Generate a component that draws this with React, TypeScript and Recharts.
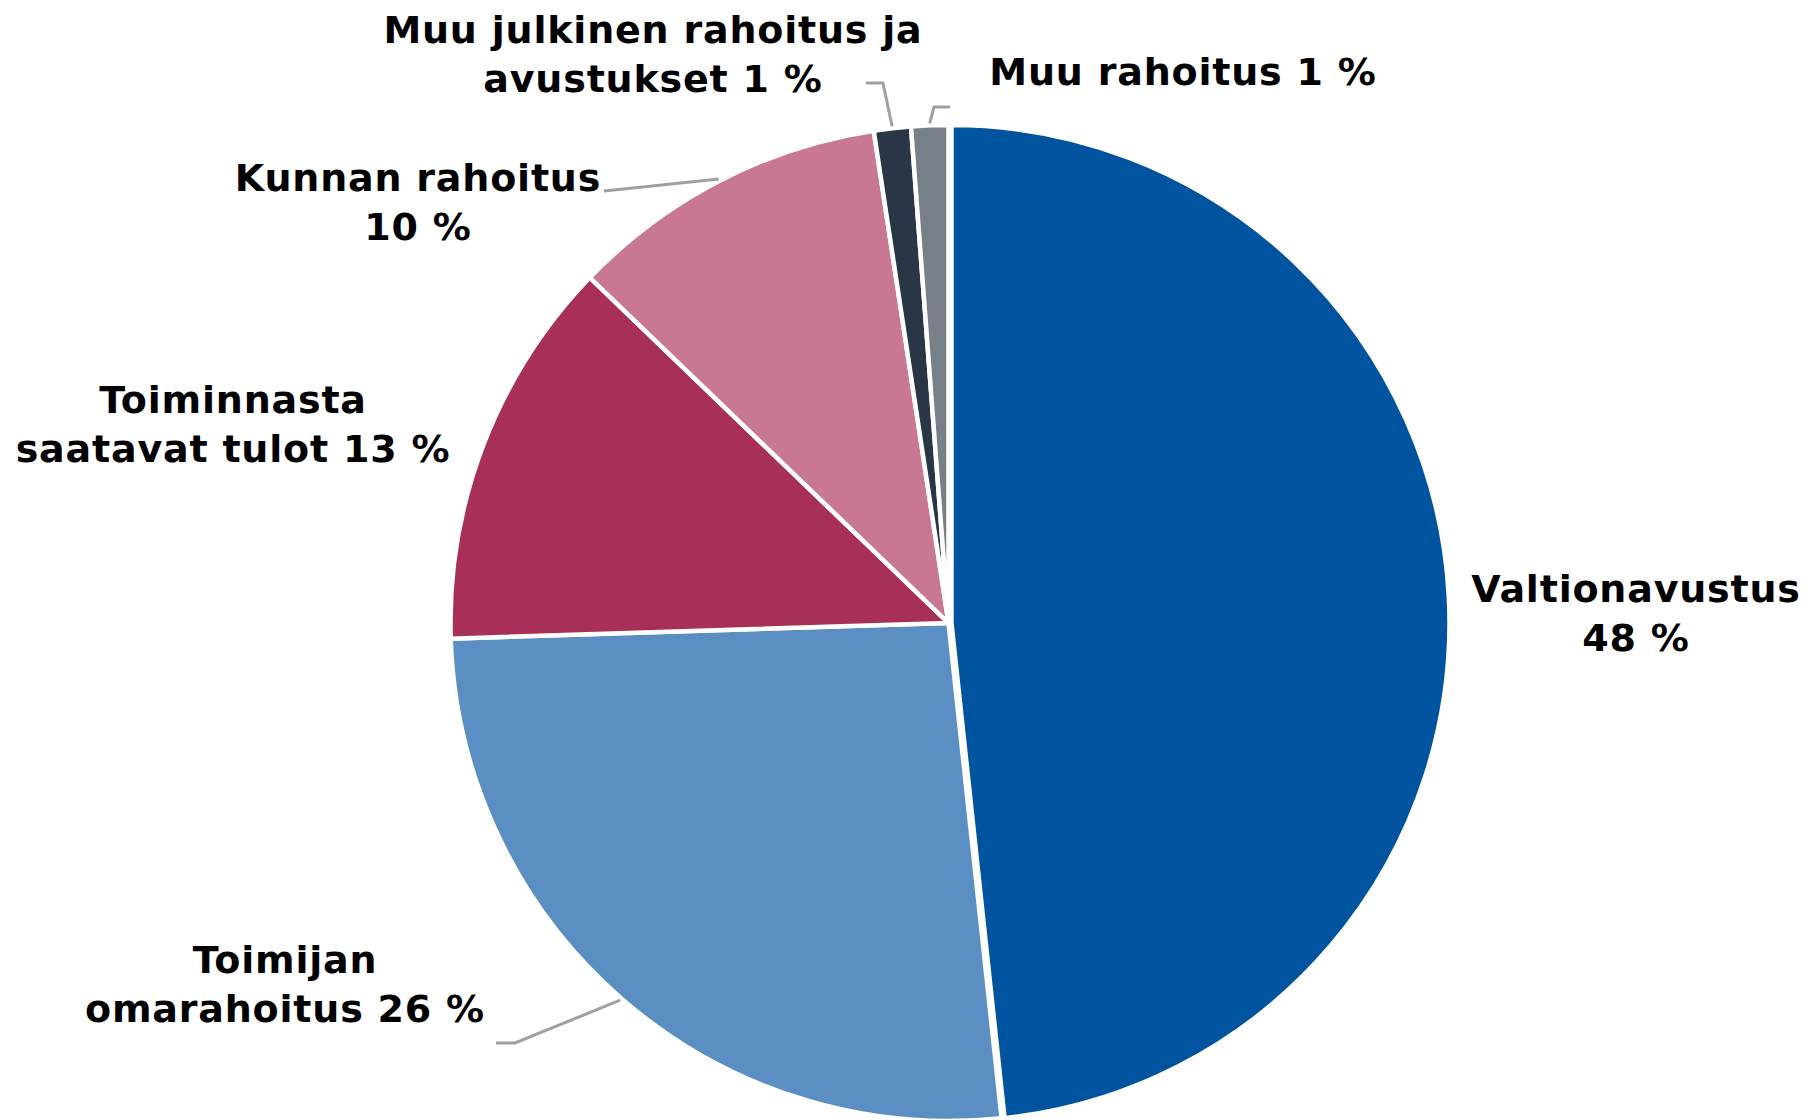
import React from 'react';
import { PieChart, Pie, Cell } from 'recharts';

// Funding sources, shares in percent
const categories = [
  'Valtionavustus',
  'Toimijan omarahoitus',
  'Toiminnasta saatavat tulot',
  'Kunnan rahoitus',
  'Muu julkinen rahoitus ja avustukset',
  'Muu rahoitus'
];
const shares = [48.3, 26.2, 12.7, 10.4, 1.2, 1.2];
const colors = ['#00539F', '#5B8FC4', '#A83058', '#C87892', '#283646', '#768089'];

// How each label breaks into lines (the percent goes after the last line)
const labelLines = [
  ['Valtionavustus', ''],
  ['Toimijan', 'omarahoitus'],
  ['Toiminnasta', 'saatavat tulot'],
  ['Kunnan rahoitus', ''],
  ['Muu julkinen rahoitus ja', 'avustukset'],
  ['Muu rahoitus']
];

// Label placement: text centre x, first baseline y, label-side leader points
const labelLayout = [
  { x: 1636, y: 602, leader: [] as number[][] },
  { x: 285, y: 973, leader: [[496, 1043], [515, 1043]] },
  { x: 233, y: 413, leader: [] as number[][] },
  { x: 418, y: 191, leader: [[604, 191], [614, 190]] },
  { x: 653, y: 43, leader: [[866, 83], [883, 83]] },
  { x: 1183, y: 85, leader: [[950, 107], [934, 107]] }
];

const data = categories.map((name, i) => ({ name, value: shares[i] }));

const CX = 948.5;
const CY = 623;
const RADIUS = 498;
const EXPLODE = 3;
const LINE_GAP = 48.5;

const renderLabel = (props: any) => {
  const { cx, cy, midAngle, outerRadius, percent, index } = props;
  const layout = labelLayout[index];
  const lines = labelLines[index];
  const pct = `${Math.round(percent * 100)} %`;
  const texts =
    lines.length === 1
      ? [`${lines[0]} ${pct}`]
      : [lines[0], lines[1] ? `${lines[1]} ${pct}` : pct];

  const rad = (-midAngle * Math.PI) / 180;
  const ex = cx + (outerRadius + 2) * Math.cos(rad);
  const ey = cy + (outerRadius + 2) * Math.sin(rad);
  const pts = layout.leader.length ? [...layout.leader, [ex, ey]] : [];

  return (
    <g key={`label-${index}`}>
      {pts.length > 0 && (
        <polyline
          points={pts.map((p) => p.join(',')).join(' ')}
          fill="none"
          stroke="#A0A0A0"
          strokeWidth={3}
        />
      )}
      <text
        x={layout.x}
        textAnchor="middle"
        fontFamily="'DejaVu Sans', Verdana, sans-serif"
        fontWeight="bold"
        fontSize={38}
        letterSpacing={0.8}
        fill="#000"
      >
        {texts.map((t, i) => (
          <tspan key={i} x={layout.x} y={layout.y + i * LINE_GAP}>
            {t}
          </tspan>
        ))}
      </text>
    </g>
  );
};

const App: React.FC = () => {
  return (
    <div style={{ position: 'absolute', left: 0, top: 0, width: 1808, height: 1120, background: '#fff' }}>
      <PieChart width={1808} height={1120} margin={{ top: 0, right: 0, bottom: 0, left: 0 }}>
        {/* exploded first slice */}
        <Pie
          data={data}
          dataKey="value"
          nameKey="name"
          cx={CX + EXPLODE}
          cy={CY}
          outerRadius={RADIUS}
          startAngle={90}
          endAngle={-270}
          stroke="#fff"
          strokeWidth={4.5}
          label={false}
          labelLine={false}
          isAnimationActive={false}
        >
          {data.map((_, i) => (
            <Cell
              key={`a-${i}`}
              fill={i === 0 ? colors[i] : 'none'}
              stroke={i === 0 ? '#fff' : 'none'}
            />
          ))}
        </Pie>
        <Pie
          data={data}
          dataKey="value"
          nameKey="name"
          cx={CX}
          cy={CY}
          outerRadius={RADIUS}
          startAngle={90}
          endAngle={-270}
          stroke="#fff"
          strokeWidth={4.5}
          label={renderLabel}
          labelLine={false}
          isAnimationActive={false}
        >
          {data.map((_, i) => (
            <Cell
              key={`b-${i}`}
              fill={i === 0 ? 'none' : colors[i]}
              stroke={i === 0 ? 'none' : '#fff'}
            />
          ))}
        </Pie>
      </PieChart>
    </div>
  );
};

export default App;
